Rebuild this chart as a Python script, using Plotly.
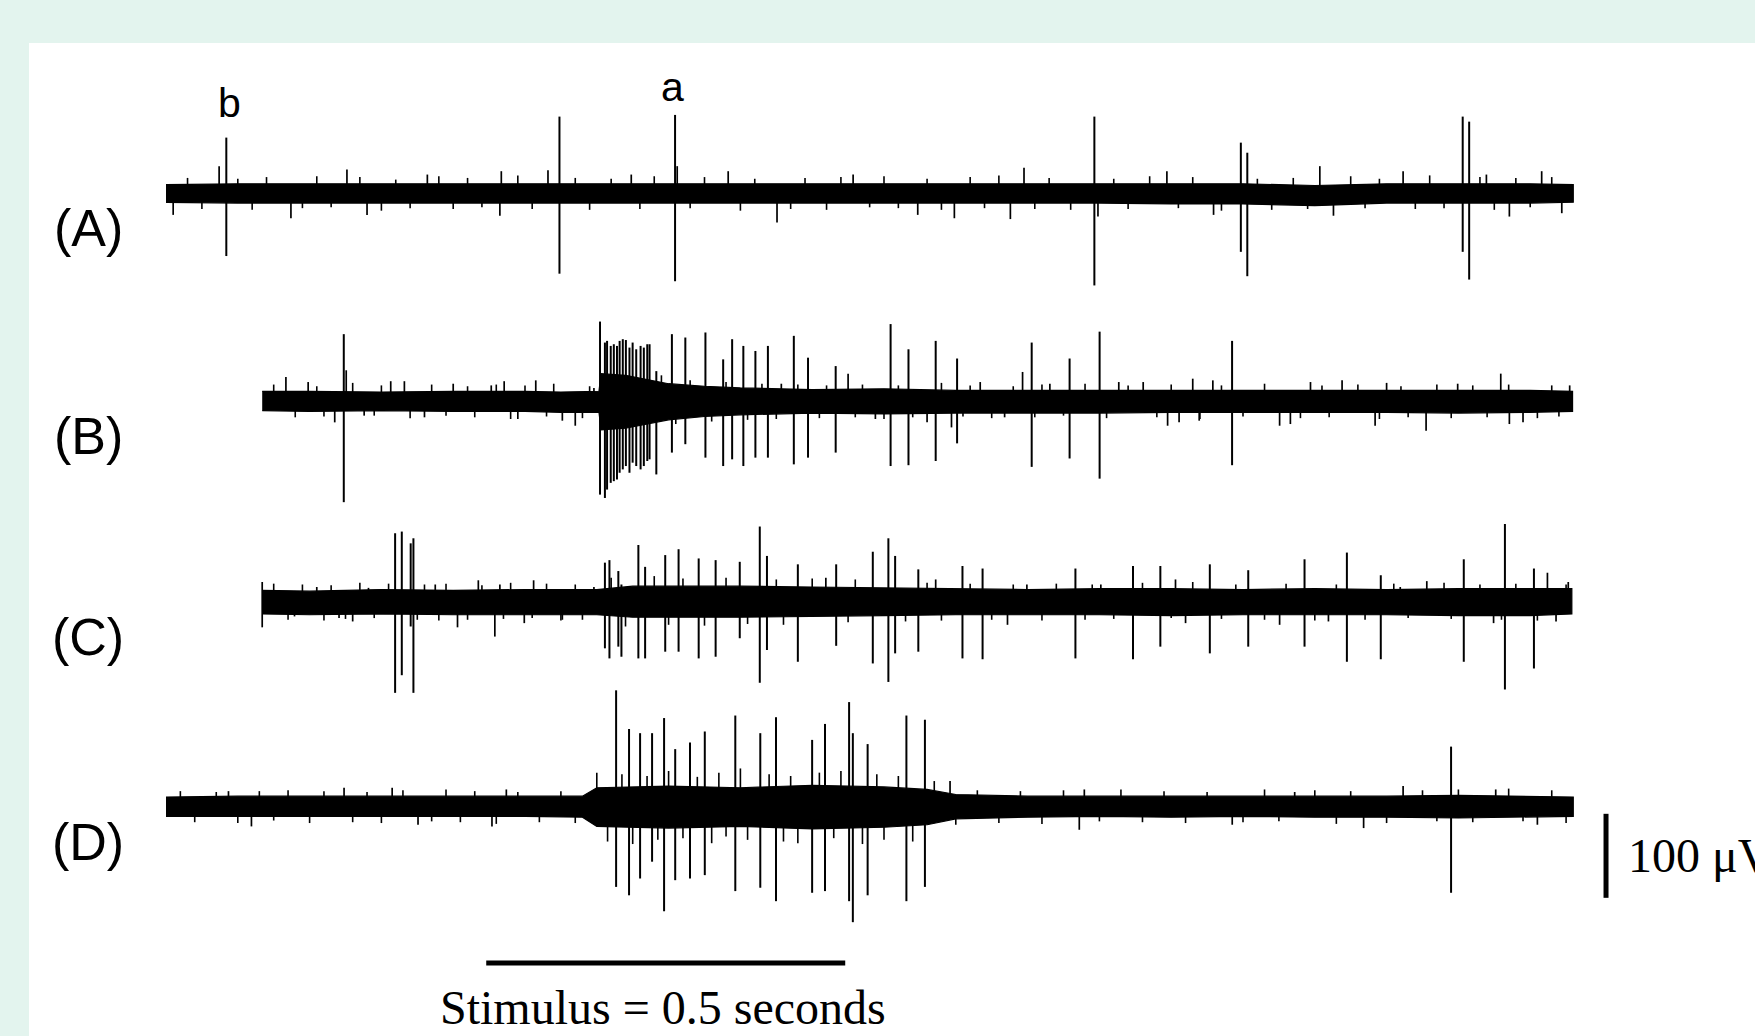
import plotly.graph_objects as go

# ---------------- DATA ----------------
# time in seconds, amplitudes in microvolts (relative to each trace's baseline)
TRACE_NAMES = ["(A)", "(B)", "(C)", "(D)"]

# Noise-band envelopes (solid core of each recording)
A_ENV_T = [0.0, 0.1, 0.2, 0.3, 0.4, 0.5, 0.6, 0.7, 0.8, 0.9, 1.0, 1.1, 1.2, 1.3, 1.4, 1.5, 1.6, 1.7, 1.8, 1.9, 1.96]
A_ENV_HI = [10, 11, 11, 11, 11, 11, 11, 11, 11, 11, 11, 11, 11, 11, 11, 11, 9, 11, 11, 11, 10]
A_ENV_LO = [-11, -12, -12, -12, -12, -12, -12, -12, -12, -12, -12, -12, -12, -12, -13, -13, -15, -12, -12, -12, -11]

B_ENV_T = [0.134, 0.2, 0.3, 0.4, 0.5, 0.55, 0.603, 0.606, 0.64, 0.67, 0.7, 0.75, 0.8, 0.9, 1.0, 1.1, 1.2, 1.3, 1.4, 1.5, 1.6, 1.7, 1.8, 1.9, 1.959]
B_ENV_HI = [11, 11, 10, 11, 11, 10, 11, 32, 30, 25, 20, 17, 15, 13, 14, 12, 12, 12, 12, 12, 12, 12, 12, 12, 11]
B_ENV_LO = [-12, -13, -12, -13, -13, -14, -14, -35, -33, -28, -23, -19, -17, -15, -16, -15, -15, -15, -14, -14, -14, -14, -15, -14, -13]

C_ENV_T = [0.134, 0.2, 0.3, 0.4, 0.5, 0.6, 0.65, 0.7, 0.8, 0.9, 1.0, 1.1, 1.2, 1.3, 1.4, 1.5, 1.6, 1.7, 1.8, 1.9, 1.958]
C_ENV_HI = [13, 12, 14, 13, 14, 14, 18, 18, 18, 17, 16, 15, 14, 15, 15, 14, 15, 14, 15, 15, 15]
C_ENV_LO = [-15, -16, -15, -16, -16, -16, -19, -19, -19, -18, -17, -16, -16, -16, -17, -16, -16, -16, -17, -17, -15]

D_ENV_T = [0.0, 0.1, 0.2, 0.3, 0.4, 0.5, 0.58, 0.6, 0.7, 0.8, 0.9, 1.0, 1.06, 1.1, 1.2, 1.3, 1.4, 1.5, 1.6, 1.7, 1.8, 1.9, 1.96]
D_ENV_HI = [11, 12, 12, 12, 12, 12, 12, 22, 24, 22, 25, 23, 20, 14, 12, 12, 12, 12, 12, 12, 13, 12, 11]
D_ENV_LO = [-12, -12, -12, -12, -12, -12, -13, -24, -26, -24, -27, -25, -22, -15, -13, -12, -13, -12, -13, -13, -14, -13, -12]

# Action potentials (spike time, positive peak, negative peak)
A_SPIKE_T = [0.084, 0.548, 0.709, 1.293, 1.497, 1.506, 1.806, 1.815]
A_SPIKE_UP = [66, 91, 93, 91, 60, 48, 91, 85]
A_SPIKE_DN = [75, 96, 105, 110, 70, 99, 70, 103]

B_SPIKE_T = [0.2476, 0.6045, 0.6113, 0.6143, 0.6194, 0.6237, 0.6281, 0.6318, 0.6362, 0.6405,
             0.6455, 0.6499, 0.6549, 0.6610, 0.6655, 0.6703, 0.6735, 0.6829, 0.7046, 0.7233,
             0.7513, 0.7760, 0.7885, 0.8041, 0.8209, 0.8383, 0.8744, 0.8942, 0.9327, 1.0092,
             1.0341, 1.0720, 1.1018, 1.2057, 1.2585, 1.3003, 1.4848]
B_SPIKE_UP = [79, 94, 69, 71, 65, 67, 65, 71, 73, 72, 63, 69, 61, 65, 63, 67, 67, 35, 79, 75,
              81, 49, 73, 65, 59, 65, 77, 51, 41, 91, 61, 71, 50, 69, 50, 82, 71]
B_SPIKE_DN = [121, 112, 116, 106, 98, 96, 94, 86, 82, 78, 86, 74, 78, 82, 78, 72, 70, 88, 62, 52,
              68, 78, 70, 78, 68, 68, 76, 68, 62, 78, 77, 72, 51, 79, 69, 93, 77]

C_SPIKE_T = [0.3191, 0.3284, 0.3408, 0.3446, 0.6113, 0.6176, 0.6300, 0.6343, 0.6579, 0.6673,
             0.6953, 0.7139, 0.7419, 0.7655, 0.7991, 0.8270, 0.8370, 0.8800, 0.9334, 0.9844,
             1.0061, 1.0155, 1.0478, 1.1093, 1.1373, 1.2666, 1.3468, 1.3849, 1.4538, 1.5073,
             1.5857, 1.6447, 1.6919, 1.8075, 1.8648, 1.9052]
C_SPIKE_UP = [81, 83, 69, 75, 46, 49, 36, 20, 67, 41, 55, 62, 51, 49, 47, 89, 54, 44, 44, 59,
              75, 54, 38, 42, 39, 39, 42, 42, 44, 37, 50, 58, 31, 50, 92, 39]
C_SPIKE_DN = [109, 88, 30, 109, 56, 68, 54, 66, 68, 68, 60, 60, 68, 66, 44, 97, 58, 72, 53, 74,
              96, 62, 60, 68, 69, 68, 69, 54, 62, 54, 54, 72, 69, 72, 105, 80]

D_SPIKE_T = [0.6269, 0.6449, 0.6603, 0.6770, 0.6937, 0.7092, 0.7298, 0.7504, 0.7929, 0.8277,
             0.8496, 0.8999, 0.9178, 0.9514, 0.9566, 0.9772, 1.0312, 1.0570, 1.7898]
D_SPIKE_UP = [138, 92, 87, 87, 105, 68, 76, 89, 108, 87, 106, 79, 98, 124, 87, 74, 108, 103, 71]
D_SPIKE_DN = [96, 106, 86, 66, 125, 88, 86, 82, 101, 97, 113, 103, 101, 113, 138, 106, 113, 96, 103]

# Larger noise peaks (time, positive peak, negative peak; 0 = none)
A_NOISE_T = [0.010, 0.074, 0.174, 0.252, 0.280, 0.364, 0.465, 0.467, 0.532, 0.648, 0.712, 0.783, 0.851, 0.957,
             1.047, 1.098, 1.176, 1.195, 1.298, 1.394, 1.459, 1.607, 1.626, 1.723, 1.839, 1.871, 1.916, 1.944]
A_NOISE_UP = [0, 32, 0, 28, 0, 22, 0, 26, 27, 22, 32, 26, 0, 22, 0, 0, 0, 30, 0, 26, 0, 32, 0, 26, 22, 0, 26, 0]
A_NOISE_DN = [26, 0, 30, 0, 26, 0, 27, 0, 0, 0, 0, 0, 35, 0, 26, 30, 31, 0, 28, 0, 26, 0, 27, 0, 0, 28, 0, 24]

B_NOISE_T = [0.167, 0.198, 0.235, 0.251, 0.276, 0.313, 0.332, 0.360, 0.400, 0.453, 0.471, 0.490, 0.515, 0.552, 0.570,
             0.596, 0.857, 0.950, 0.988, 1.060, 1.094, 1.134, 1.168, 1.193, 1.231, 1.327, 1.361, 1.395, 1.411, 1.430,
             1.439, 1.458, 1.551, 1.566, 1.594, 1.638, 1.684, 1.700, 1.755, 1.799, 1.859, 1.871, 1.890, 1.955]
B_NOISE_UP = [28, 22, 0, 36, 0, 23, 23, 0, 20, 18, 23, 0, 24, 0, 0, 15, 20, 32, 0, 0, 0, 22, 0, 34, 20, 22, 22, 0, 0, 26,
              0, 24, 0, 0, 22, 24, 0, 21, 0, 20, 32, 0, 0, 18]
B_NOISE_DN = [0, 0, 26, 0, 18, 0, 0, 20, 0, 0, 0, 22, 0, 24, 30, 0, 0, 0, 22, 26, 32, 0, 20, 0, 0, 0, 0, 30, 26, 0,
              24, 0, 30, 28, 0, 0, 30, 0, 36, 0, 0, 28, 26, 0]

C_NOISE_T = [0.134, 0.179, 0.210, 0.241, 0.260, 0.282, 0.375, 0.406, 0.435, 0.458, 0.465, 0.499, 0.512, 0.552, 0.596,
             0.919, 1.072, 1.172, 1.199, 1.302, 1.406, 1.420, 1.551, 1.619, 1.719, 1.756, 1.849, 1.924, 1.936, 1.953]
C_NOISE_UP = [23, 0, 17, 0, 0, 16, 20, 0, 25, 0, 20, 0, 25, 0, 17, 28, 26, 0, 20, 20, 26, 0, 0, 0, 17, 24, 0, 34, 0, 23]
C_NOISE_DN = [31, 18, 0, 20, 24, 0, 0, 31, 0, 42, 0, 26, 0, 22, 0, 0, 0, 28, 0, 0, 0, 26, 28, 24, 0, 0, 26, 0, 24, 0]

D_NOISE_T = [0.087, 0.119, 0.248, 0.315, 0.351, 0.454, 0.474, 1.092, 1.272, 1.279, 1.485, 1.572, 1.668, 1.723, 1.852, 1.910]
D_NOISE_UP = [18, 0, 22, 22, 0, 0, 20, 30, 0, 20, 0, 17, 0, 24, 20, 0]
D_NOISE_DN = [0, 24, 0, 0, 22, 24, 0, 0, 28, 0, 22, 0, 26, 0, 0, 22]

# Fine noise texture on the band edges (time, signed peak)
A_FINE_T = [0.03, 0.05, 0.10, 0.12, 0.14, 0.19, 0.21, 0.23, 0.27, 0.30,
            0.32, 0.34, 0.38, 0.40, 0.42, 0.44, 0.49, 0.51, 0.57, 0.59,
            0.62, 0.66, 0.68, 0.73, 0.75, 0.80, 0.82, 0.87, 0.89, 0.92,
            0.94, 0.98, 1.00, 1.02, 1.06, 1.08, 1.12, 1.14, 1.16, 1.21,
            1.23, 1.26, 1.32, 1.34, 1.37, 1.41, 1.43, 1.47, 1.52, 1.54,
            1.57, 1.59, 1.65, 1.67, 1.69, 1.74, 1.76, 1.78, 1.83, 1.85,
            1.88, 1.90, 1.93]
A_FINE_V = [18, -19, 17, -20, 19, -18, 20, -17, 19, -21,
            16, -18, 20, -19, 18, -17, 21, -19, 18, -20,
            17, -19, 20, -18, 19, -21, 17, -19, 18, -20,
            19, -17, 20, -18, 17, -20, 19, -18, 21, -19,
            18, -20, 17, -19, 20, -18, 19, -21, 17, -20,
            18, -19, 20, -18, 17, -19, 21, -18, 19, -20,
            18, -17, 19]

B_FINE_T = [0.15, 0.18, 0.21, 0.22, 0.26, 0.29, 0.30, 0.34, 0.37, 0.39,
            0.42, 0.43, 0.46, 0.48, 0.50, 0.53, 0.54, 0.58, 0.59, 0.69,
            0.71, 0.73, 0.76, 0.78, 0.81, 0.83, 0.85, 0.88, 0.91, 0.92,
            0.96, 0.97, 1.00, 1.02, 1.04, 1.08, 1.11, 1.12, 1.15, 1.18,
            1.21, 1.22, 1.25, 1.28, 1.31, 1.34, 1.38, 1.40, 1.44, 1.47,
            1.50, 1.53, 1.58, 1.61, 1.62, 1.66, 1.69, 1.72, 1.73, 1.77,
            1.79, 1.82, 1.84, 1.87, 1.91, 1.93, 1.94]
B_FINE_V = [19, -20, 17, -19, 21, -18, 18, -21, 19, -18,
            17, -20, 19, -22, 18, -19, 20, -21, 17, 30,
            -28, 24, -25, 22, -23, 20, -22, 19, -21, 18,
            -20, 19, -22, 18, -20, 21, -19, 18, -21, 17,
            -20, 19, -18, 20, -21, 18, -20, 19, -22, 18,
            -19, 20, -21, 18, -20, 19, -22, 17, -20, 19,
            -21, 18, -20, 19, -21, 18, -19]

C_FINE_T = [0.15, 0.17, 0.19, 0.22, 0.23, 0.25, 0.27, 0.29, 0.31, 0.35,
            0.36, 0.38, 0.39, 0.42, 0.44, 0.47, 0.48, 0.51, 0.53, 0.55,
            0.57, 0.58, 0.62, 0.64, 0.68, 0.70, 0.72, 0.75, 0.78, 0.81,
            0.85, 0.86, 0.90, 0.95, 0.96, 1.03, 1.06, 1.08, 1.12, 1.15,
            1.18, 1.22, 1.24, 1.28, 1.29, 1.32, 1.36, 1.40, 1.43, 1.47,
            1.49, 1.53, 1.56, 1.60, 1.63, 1.67, 1.71, 1.73, 1.78, 1.79,
            1.83, 1.86, 1.88, 1.91, 1.95]
C_FINE_V = [21, -22, 20, -23, 19, -21, 22, -20, 21, -22,
            20, -23, 21, -22, 19, -21, 22, -20, 21, -23,
            20, -22, 28, -30, 30, -28, 27, -29, 28, -27,
            26, -28, 27, -25, 26, -24, 22, -23, 21, -22,
            20, -23, 21, -22, 20, -21, 22, -20, 23, -21,
            20, -22, 21, -23, 20, -22, 21, -20, 22, -21,
            20, -22, 21, -23, 20]

D_FINE_T = [0.02, 0.04, 0.07, 0.10, 0.13, 0.15, 0.17, 0.20, 0.22, 0.26,
            0.28, 0.30, 0.33, 0.37, 0.39, 0.41, 0.43, 0.46, 0.49, 0.52,
            0.55, 0.57, 0.60, 0.615, 0.635, 0.65, 0.67, 0.685, 0.70, 0.72,
            0.74, 0.76, 0.77, 0.78, 0.80, 0.81, 0.84, 0.86, 0.87, 0.88,
            0.91, 0.93, 0.94, 0.97, 0.99, 1.00, 1.02, 1.04, 1.07, 1.10,
            1.13, 1.16, 1.19, 1.22, 1.25, 1.30, 1.33, 1.36, 1.39, 1.42,
            1.45, 1.50, 1.53, 1.55, 1.60, 1.63, 1.65, 1.70, 1.75, 1.77,
            1.80, 1.82, 1.87, 1.89, 1.93, 1.95]
D_FINE_V = [18, -19, 17, -20, 18, -17, 19, -20, 18, -19,
            17, -20, 19, -18, 20, -19, 18, -21, 17, -19,
            18, -20, 40, -42, 38, -45, 36, -40, 42, -38,
            35, -44, 40, -36, 45, -40, 38, -42, 36, -44,
            40, -38, 42, -45, 38, -40, 36, -42, 30, -22,
            19, -20, 18, -21, 19, -18, 20, -19, 18, -20,
            17, -19, 20, -18, 19, -21, 18, -20, 19, -18,
            20, -19, 21, -18, 19, -20]

STIMULUS_DURATION_S = 0.5
STIMULUS_START_S = 0.446
SCALE_BAR_UV = 100
SPIKE_LABELS = ["b", "a"]          # labelled spikes of trace A
SPIKE_LABEL_T = [0.088, 0.705]

# ---------------- LAYOUT CONSTANTS ----------------
W, H = 1755, 1036
OFFSETS = [0, -247, -486, -730]      # vertical offset of each trace (uV)
X_RANGE = [-0.2312, 2.2131]
Y_RANGE = [-1003.5, 229.8]
INK = "#000000"
MINT = "#e3f4ee"

traces = [
    (A_ENV_T, A_ENV_HI, A_ENV_LO, A_SPIKE_T, A_SPIKE_UP, A_SPIKE_DN, A_NOISE_T, A_NOISE_UP, A_NOISE_DN, A_FINE_T, A_FINE_V),
    (B_ENV_T, B_ENV_HI, B_ENV_LO, B_SPIKE_T, B_SPIKE_UP, B_SPIKE_DN, B_NOISE_T, B_NOISE_UP, B_NOISE_DN, B_FINE_T, B_FINE_V),
    (C_ENV_T, C_ENV_HI, C_ENV_LO, C_SPIKE_T, C_SPIKE_UP, C_SPIKE_DN, C_NOISE_T, C_NOISE_UP, C_NOISE_DN, C_FINE_T, C_FINE_V),
    (D_ENV_T, D_ENV_HI, D_ENV_LO, D_SPIKE_T, D_SPIKE_UP, D_SPIKE_DN, D_NOISE_T, D_NOISE_UP, D_NOISE_DN, D_FINE_T, D_FINE_V),
]


def segments(ts, ups, dns, off):
    xs, ys = [], []
    for t, u, d in zip(ts, ups, dns):
        xs += [t, t, None]
        ys += [off + u, off - d, None]
    return xs, ys


fig = go.Figure()
for (et, ehi, elo, st, su, sd, nt, nu, nd, ft, fv), off in zip(traces, OFFSETS):
    # solid noise band
    fig.add_trace(go.Scatter(
        x=list(et) + list(et)[::-1],
        y=[off + v for v in ehi] + [off + v for v in elo][::-1],
        mode="lines", fill="toself", fillcolor=INK,
        line=dict(color=INK, width=1.2), hoverinfo="skip", showlegend=False))
    # fine texture
    xs, ys = segments(ft, [max(v, 0) for v in fv], [max(-v, 0) for v in fv], off)
    fig.add_trace(go.Scatter(x=xs, y=ys, mode="lines", line=dict(color=INK, width=1.6),
                             hoverinfo="skip", showlegend=False))
    # larger noise peaks
    xs, ys = segments(nt, nu, nd, off)
    fig.add_trace(go.Scatter(x=xs, y=ys, mode="lines", line=dict(color=INK, width=1.7),
                             hoverinfo="skip", showlegend=False))
    # spikes
    xs, ys = segments(st, su, sd, off)
    fig.add_trace(go.Scatter(x=xs, y=ys, mode="lines", line=dict(color=INK, width=2.0),
                             hoverinfo="skip", showlegend=False))

# stimulus bar
STIM_Y = -916.6
fig.add_trace(go.Scatter(x=[STIMULUS_START_S, STIMULUS_START_S + STIMULUS_DURATION_S], y=[STIM_Y, STIM_Y],
                         mode="lines", line=dict(color=INK, width=5), hoverinfo="skip", showlegend=False))
# voltage scale bar
SCALE_X = 2.0056
SCALE_TOP = -739
fig.add_trace(go.Scatter(x=[SCALE_X, SCALE_X], y=[SCALE_TOP, SCALE_TOP - SCALE_BAR_UV],
                         mode="lines", line=dict(color=INK, width=5), hoverinfo="skip", showlegend=False))

ann = []
for name, off in zip(TRACE_NAMES, OFFSETS):
    ann.append(dict(x=-0.1086, y=off - 42, xref="x", yref="y", text=name, showarrow=False,
                    font=dict(family="Liberation Sans, Arial, sans-serif", size=52, color=INK),
                    xanchor="center", yanchor="middle"))
for lab, t, yy in zip(SPIKE_LABELS, SPIKE_LABEL_T, [107, 126]):
    ann.append(dict(x=t, y=yy, xref="x", yref="y", text=lab, showarrow=False,
                    font=dict(family="Liberation Sans, Arial, sans-serif", size=41, color=INK),
                    xanchor="center", yanchor="middle"))
ann.append(dict(x=STIMULUS_START_S + STIMULUS_DURATION_S / 2 - 0.004, y=-969, xref="x", yref="y",
                text=f"Stimulus = {STIMULUS_DURATION_S} seconds", showarrow=False,
                font=dict(family="Liberation Serif, Times New Roman, serif", size=48, color=INK),
                xanchor="center", yanchor="middle"))
ann.append(dict(x=2.034, y=SCALE_TOP - SCALE_BAR_UV / 2, xref="x", yref="y",
                text=f"{SCALE_BAR_UV} μV", showarrow=False,
                font=dict(family="Liberation Serif, Times New Roman, serif", size=48, color=INK),
                xanchor="left", yanchor="middle"))

fig.update_layout(
    width=W, height=H, autosize=False,
    margin=dict(l=0, r=0, t=0, b=0, pad=0),
    paper_bgcolor=MINT, plot_bgcolor="rgba(0,0,0,0)",
    xaxis=dict(range=X_RANGE, visible=False, fixedrange=True),
    yaxis=dict(range=Y_RANGE, visible=False, fixedrange=True),
    shapes=[dict(type="rect", xref="paper", yref="paper", x0=29 / W, x1=1.0, y0=0, y1=1 - 43 / H,
                 fillcolor="white", line=dict(width=0), layer="below")],
    annotations=ann,
    showlegend=False,
)

fig.write_html("out.html", config={"displayModeBar": False},
               post_script="document.body.style.margin='0px';document.body.style.overflow='hidden';")
